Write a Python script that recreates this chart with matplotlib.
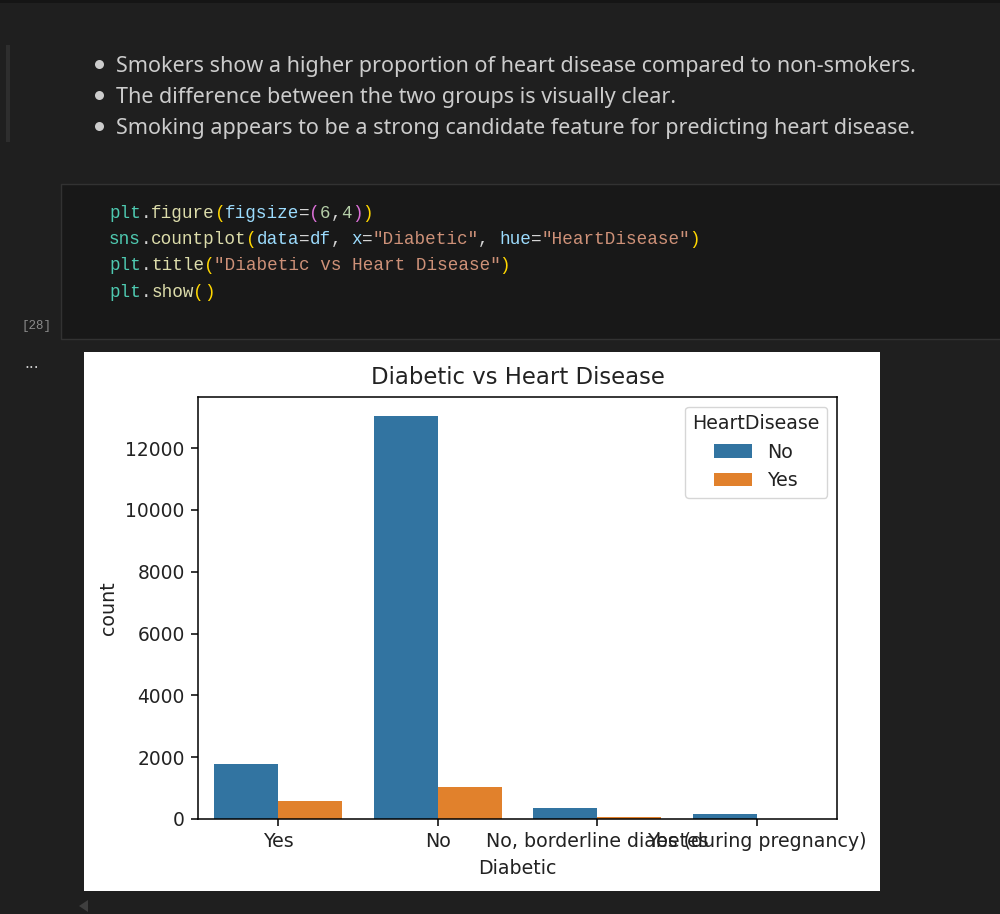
import matplotlib
matplotlib.use("Agg")
import numpy as np
import matplotlib.pyplot as plt
from matplotlib.patches import Rectangle, Polygon

categories = ["Yes", "No", "No, borderline diabetes", "Yes (during pregnancy)"]
no_counts = [1780, 13050, 366, 150]
yes_counts = [590, 1035, 50, 8]
y_ticks = [0, 2000, 4000, 6000, 8000, 10000, 12000]

bullets = [
	"Smokers show a higher proportion of heart disease compared to non-smokers.",
	"The difference between the two groups is visually clear.",
	"Smoking appears to be a strong candidate feature for predicting heart disease.",
]

GREEN = "#4ec9b0"
FUNC = "#dcdcaa"
PUNC = "#d4d4d4"
BLUE = "#9cdcfe"
GOLD = "#ffd700"
PINK = "#da70d6"
NUM = "#b5cea8"
STR = "#ce9178"

code_lines = [
	[("plt", GREEN), (".", PUNC), ("figure", FUNC), ("(", GOLD), ("figsize", BLUE), ("=", PUNC),
		("(", PINK), ("6", NUM), (",", PUNC), ("4", NUM), (")", PINK), (")", GOLD)],
	[("sns", GREEN), (".", PUNC), ("countplot", FUNC), ("(", GOLD), ("data", BLUE), ("=", PUNC),
		("df", BLUE), (", ", PUNC), ("x", BLUE), ("=", PUNC), ('"Diabetic"', STR), (", ", PUNC),
		("hue", BLUE), ("=", PUNC), ('"HeartDisease"', STR), (")", GOLD)],
	[("plt", GREEN), (".", PUNC), ("title", FUNC), ("(", GOLD), ('"Diabetic vs Heart Disease"', STR), (")", GOLD)],
	[("plt", GREEN), (".", PUNC), ("show", FUNC), ("(", GOLD), (")", GOLD)],
]

fig = plt.figure(figsize=(10, 9.14), dpi=100, facecolor="#1f1f1f")

# notebook background, in pixel coords
bg = fig.add_axes([0, 0, 1, 1])
bg.set_xlim(0, 1000)
bg.set_ylim(914, 0)
bg.axis("off")
bg.add_patch(Rectangle((0, 0), 1000, 3, color="#151515", lw=0))
bg.add_patch(Rectangle((6, 45), 4, 97, color="#2e2e2e", lw=0))
bg.add_patch(Rectangle((61, 184), 960, 155, facecolor="#181818", edgecolor="#323232", lw=1))
bg.add_patch(Polygon([[79, 906], [88, 900], [88, 912]], color="#3f3f3f", lw=0))

for y, line in zip([72, 103, 134], bullets):
	bg.plot([99], [y - 8], "o", ms=6.5, color="#cccccc", mew=0)
	bg.text(116, y, line, color="#cccccc", fontsize=15.5, family="Noto Sans", va="baseline")

for y, tokens in zip([218, 244, 270, 297], code_lines):
	col = 0
	for tok, color in tokens:
		bg.text(109 + col * 10.55, y, tok, color=color, fontsize=12.7, family="Liberation Mono", va="baseline")
		col += len(tok)

bg.text(37, 329, "[28]", color="#8a8a8a", fontsize=9, family="Liberation Mono", ha="center", va="baseline")
bg.text(32, 368, "...", color="#cccccc", fontsize=11, family="DejaVu Sans", ha="center", va="baseline")

# white image of the output
bg.add_patch(Rectangle((84, 352), 796, 539, color="white", lw=0))

ax = fig.add_axes([198 / 1000, 1 - 819 / 914, 639 / 1000, 422 / 914])
x = np.arange(len(categories))
ax.bar(x - 0.2, no_counts, 0.4, color="#3274a1", label="No")
ax.bar(x + 0.2, yes_counts, 0.4, color="#e1812c", label="Yes")
ax.set_xlim(-0.5, 3.5)
ax.set_ylim(0, 13650)
ax.set_xticks(x)
ax.set_xticklabels(categories, fontsize=13.7, color="#222222")
ax.set_yticks(y_ticks)
ax.tick_params(axis="y", labelsize=13.4, labelcolor="#222222", width=1.1, length=4.8, pad=4.8)
ax.tick_params(axis="x", width=1.1, length=4.8, pad=4.8)
for s in ax.spines.values():
	s.set_linewidth(1.1)
ax.set_xlabel("Diabetic", fontsize=13.7, color="#222222", labelpad=5.5)
ax.set_ylabel("count", fontsize=13.7, color="#222222", labelpad=5.5)
ax.set_title("Diabetic vs Heart Disease", fontsize=16.4, color="#222222", pad=9.5)
leg = ax.legend(title="HeartDisease", fontsize=13.7, title_fontsize=13.7, loc="upper right", labelcolor="#222222")
leg.get_title().set_color("#222222")

fig.savefig("out.png", dpi=100, facecolor=fig.get_facecolor())
